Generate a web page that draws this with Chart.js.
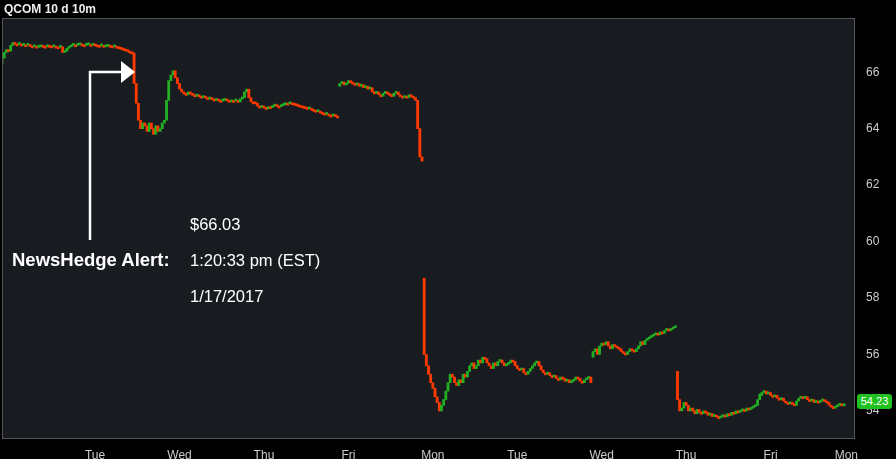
<!DOCTYPE html>
<html><head><meta charset="utf-8">
<script src="https://cdn.jsdelivr.net/npm/chart.js@4/dist/chart.umd.min.js"></script>
<style>
html,body{margin:0;padding:0;background:#000;width:896px;height:459px;overflow:hidden;font-family:"Liberation Sans",Arial,sans-serif}
#wrap{position:relative;width:896px;height:459px}
canvas{position:absolute;left:0;top:0}
.t{position:absolute;color:#fff;white-space:nowrap}
#title{left:4px;top:2px;font-size:12px;font-weight:bold;color:#eee}
#tag{position:absolute;left:857px;top:394px;width:35px;height:15px;background:#1fc21f;border-radius:3px;color:#fff;font-size:11px;text-align:center;line-height:15px}
</style></head><body>
<div id="wrap">
<canvas id="c" width="896" height="459"></canvas>
<div class="t" id="title">QCOM 10 d 10m</div>
<div class="t" style="left:12px;top:249px;font-size:18.5px;font-weight:bold">NewsHedge Alert:</div>
<div class="t" style="left:190px;top:215px;font-size:16.5px">$66.03</div>
<div class="t" style="left:190px;top:251px;font-size:16.5px">1:20:33 pm (EST)</div>
<div class="t" style="left:190px;top:287px;font-size:16.5px">1/17/2017</div>
<div id="tag">54.23</div>
</div>
<script>
const dayNames = ["","Tue","Wed","Thu","Fri","Mon","Tue","Wed","Thu","Fri","Mon"];
const dayOpens = [66.3,66.95,65.7,64.95,65.5,58.7,55.65,55.9,55.4,54.55];
const d1 = [66.5,66.7,66.8,66.75,66.95,67.05,67.0,66.98,67.0,66.95,66.97,66.95,66.98,66.93,66.9,66.92,66.88,66.9,66.95,66.92,66.9,66.95,66.93,66.9,66.92,66.9,66.88,66.9,66.7,66.75,66.85,66.9,66.95,66.97,66.95,66.97,67.0,66.97,66.95];
const d2 = [66.97,66.98,66.95,67.0,66.97,66.95,66.93,66.95,66.9,66.92,66.95,66.93,66.9,66.92,66.9,66.88,66.85,66.82,66.8,66.75,66.72,66.68,65.6,64.9,64.3,64.0,64.2,64.1,63.9,64.2,64.0,63.8,64.1,63.9,64.0,64.2,64.3,65.0,65.7];
const d3 = [65.9,66.05,65.8,65.6,65.4,65.3,65.25,65.2,65.3,65.25,65.2,65.15,65.2,65.15,65.1,65.15,65.1,65.05,65.1,65.05,65.0,65.05,65.0,64.98,65.0,65.05,65.0,64.95,65.0,64.98,65.0,64.95,65.05,65.1,65.3,65.4,65.1,64.95,64.9];
const d4 = [64.9,64.8,64.75,64.8,64.75,64.7,64.78,64.75,64.8,64.85,64.8,64.78,64.82,64.85,64.9,64.88,64.92,64.9,64.88,64.85,64.82,64.8,64.78,64.75,64.7,64.72,64.68,64.65,64.6,64.62,64.58,64.55,64.5,64.52,64.48,64.45,64.5,64.45,64.43];
const d5 = [65.6,65.65,65.55,65.6,65.7,65.65,65.6,65.55,65.6,65.5,65.55,65.45,65.5,65.4,65.45,65.3,65.25,65.3,65.2,65.15,65.25,65.3,65.25,65.2,65.15,65.25,65.3,65.2,65.15,65.1,65.15,65.1,65.2,65.15,65.1,65.0,64.0,63.0,62.85];
const d6 = [56.0,55.6,55.3,55.0,54.8,54.5,54.3,54.0,54.2,54.4,54.7,55.0,55.3,55.2,55.0,54.9,55.1,55.0,55.3,55.2,55.4,55.6,55.7,55.5,55.6,55.8,55.7,55.9,55.85,55.7,55.6,55.5,55.7,55.6,55.75,55.8,55.7,55.6,55.65];
const d7 = [55.7,55.8,55.75,55.6,55.5,55.45,55.5,55.35,55.3,55.4,55.5,55.6,55.7,55.75,55.6,55.45,55.35,55.3,55.35,55.25,55.2,55.25,55.15,55.1,55.2,55.15,55.05,55.1,55.0,55.05,55.1,55.2,55.15,55.05,55.0,55.1,55.15,55.2,55.0];
const d8 = [56.1,56.2,56.0,56.3,56.4,56.35,56.45,56.3,56.2,56.35,56.3,56.25,56.2,56.1,56.05,56.0,56.1,56.2,56.15,56.1,56.2,56.3,56.45,56.35,56.5,56.55,56.6,56.65,56.7,56.75,56.7,56.8,56.75,56.85,56.9,56.85,56.9,56.95,56.95];
const d9 = [54.4,54.0,54.1,54.3,54.2,54.0,54.1,54.0,53.9,54.05,53.95,53.9,54.0,53.95,53.85,53.9,53.8,53.85,53.8,53.75,53.8,53.85,53.8,53.9,53.85,53.95,53.9,54.0,53.95,54.0,54.05,54.0,54.1,54.05,54.1,54.15,54.2,54.4,54.6];
const d10 = [54.65,54.7,54.6,54.65,54.55,54.5,54.55,54.45,54.4,54.45,54.35,54.3,54.25,54.3,54.25,54.2,54.35,54.45,54.5,54.45,54.5,54.4,54.35,54.4,54.3,54.35,54.3,54.35,54.4,54.35,54.3,54.2,54.15,54.1,54.15,54.2,54.25,54.18,54.23];
const yTicks = [54,56,58,60,62,64,66];

const days=[d1,d2,d3,d4,d5,d6,d7,d8,d9,d10];
const labels=[], bodies=[], colors=[];
days.forEach((d,k)=>{
  let o=dayOpens[k];
  d.forEach((c,i)=>{
    labels.push(i===4?dayNames[k]:"");
    let lo=o, hi=c;
    if(Math.abs(hi-lo)<0.07){hi=lo+(c>=o?0.07:-0.07);}
    bodies.push([lo,hi]);
    colors.push(c>=o?"#22b022":"#ff3a00");
    o=c;
  });
});
labels.push("Mon");bodies.push(null);colors.push("#000");
for(let i=0;i<4;i++){labels.push("");bodies.push(null);colors.push("#000");}

const bg={id:'bg',beforeDraw(ch){const{ctx,chartArea:a}=ch;ctx.save();ctx.fillStyle='#000';ctx.fillRect(0,0,896,459);ctx.fillStyle='#181b20';ctx.fillRect(a.left,a.top,a.right-a.left,a.bottom-a.top);ctx.restore();},
 afterDraw(ch){const{ctx,chartArea:a}=ch;ctx.save();ctx.strokeStyle='#555';ctx.lineWidth=1;ctx.strokeRect(a.left+0.5,a.top+0.5,a.right-a.left-1,a.bottom-a.top);
 ctx.strokeStyle='#fff';ctx.lineWidth=2.5;ctx.beginPath();ctx.moveTo(90,240);ctx.lineTo(90,72);ctx.lineTo(122,72);ctx.stroke();
 ctx.fillStyle='#fff';ctx.beginPath();ctx.moveTo(121,61);ctx.lineTo(135,72);ctx.lineTo(121,83);ctx.closePath();ctx.fill();ctx.restore();}};

new Chart(document.getElementById('c'),{type:'bar',
 data:{labels,datasets:[{data:bodies,backgroundColor:colors,borderWidth:0,barPercentage:1,categoryPercentage:1,grouped:false}]},
 options:{responsive:false,animation:false,events:[],
  layout:{padding:{top:18,left:2,right:0,bottom:0}},
  plugins:{legend:{display:false},tooltip:{enabled:false}},
  scales:{
   x:{offset:false,grid:{display:false},border:{display:false},
      ticks:{autoSkip:false,maxRotation:0,color:'#ccc',font:{size:12,family:'Liberation Sans'},padding:2,callback:(v,i)=>labels[i]},
      afterFit(s){s.height=21;}},
   y:{position:'right',min:53.04,max:67.92,grid:{display:false},border:{display:false},
      afterBuildTicks(s){s.ticks=yTicks.map(v=>({value:v}));},
      ticks:{color:'#ccc',font:{size:12,family:'Liberation Sans'},padding:3},
      afterFit(s){s.width=41;}}
  }},
 plugins:[bg]});
</script>
</body></html>
